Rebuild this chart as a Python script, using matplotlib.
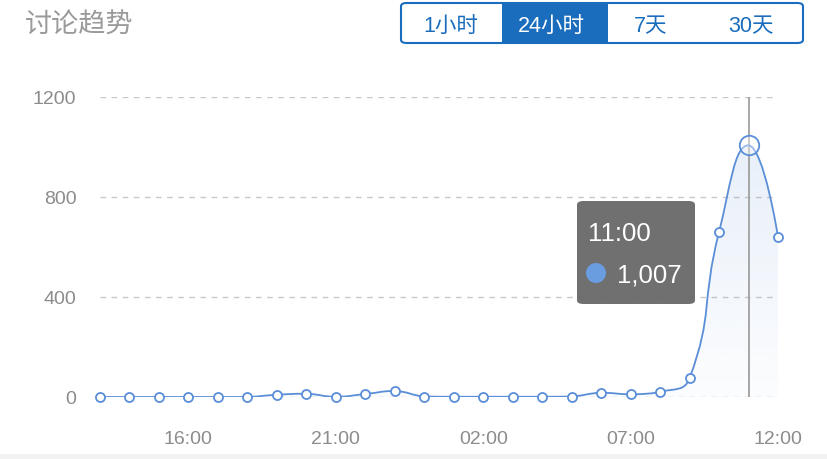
import numpy as np
import matplotlib
matplotlib.use("Agg")
import matplotlib.pyplot as plt
from matplotlib.path import Path
from matplotlib.patches import PathPatch, FancyBboxPatch, Rectangle, Ellipse

plt.rcParams['font.family'] = ['Liberation Sans', 'Noto Sans CJK SC', 'DejaVu Sans']

# data
hours = ['13:00', '14:00', '15:00', '16:00', '17:00', '18:00', '19:00', '20:00',
         '21:00', '22:00', '23:00', '00:00', '01:00', '02:00', '03:00', '04:00',
         '05:00', '06:00', '07:00', '08:00', '09:00', '10:00', '11:00', '12:00']
counts = [0, 0, 0, 0, 0, 0, 9, 13, 1, 12, 24, 2, 1, 1, 1, 1, 2, 17, 11, 20, 75, 660, 1007, 641]
tick_labels = ['16:00', '21:00', '02:00', '07:00', '12:00']
yticks = [0, 400, 800, 1200]
buttons = ['1小时', '24小时', '7天', '30天']
selected = '24小时'
hover_idx = 22

W, H = 828, 460
LINE = '#5b8ed8'
BLUE = '#1a6dbd'
GRAY = '#8c8c8c'


def fx(x):
    return x / W


def fy(y):
    return 1 - y / H


def smooth_path(xs, ys, sx, sy, smooth=0.5):
    # echarts-style bezier smoothing with control points clamped per segment
    px = np.asarray(xs, float) * sx
    py = np.asarray(ys, float) * sy
    n = len(px)
    verts = [(px[0], py[0])]
    codes = [Path.MOVETO]
    cp0 = (px[0], py[0])
    for i in range(1, n):
        x, y = px[i], py[i]
        if i < n - 1:
            prx, pry = px[i - 1], py[i - 1]
            nx, ny = px[i + 1], py[i + 1]
            vx, vy = nx - prx, ny - pry
            lp = np.hypot(x - prx, y - pry)
            ln = np.hypot(nx - x, ny - y)
            r = ln / (lp + ln) if lp + ln > 0 else 0.5
            c1x = x - vx * smooth * (1 - r)
            c1y = y - vy * smooth * (1 - r)
            c1x = min(max(c1x, min(prx, x)), max(prx, x))
            c1y = min(max(c1y, min(pry, y)), max(pry, y))
            n0x = x + vx * smooth * r
            n0y = y + vy * smooth * r
            n0x = min(max(n0x, min(nx, x)), max(nx, x))
            n0y = min(max(n0y, min(ny, y)), max(ny, y))
        else:
            c1x, c1y = x, y
            n0x, n0y = x, y
        verts += [cp0, (c1x, c1y), (x, y)]
        codes += [Path.CURVE4] * 3
        cp0 = (n0x, n0y)
    verts = [(a / sx, b / sy) for a, b in verts]
    return verts, codes


fig = plt.figure(figsize=(W / 100, H / 100), dpi=100)
fig.patch.set_facecolor('white')

x0, x1, ytop, ybot = 100, 778, 98, 398
ax = fig.add_axes([fx(x0), fy(ybot), (x1 - x0) / W, (ybot - ytop) / H])
ax.set_xlim(0, len(hours) - 1)
ax.set_ylim(0, 1200)
for s in ax.spines.values():
    s.set_visible(False)
ax.set_facecolor('none')

xs = np.arange(len(hours))
sx = (x1 - x0) / (len(hours) - 1)
sy = (ybot - ytop) / 1200

for v in yticks:
    ax.axhline(v, color='#c8c8c8', lw=1, ls=(0, (4, 4)), zorder=1)

verts, codes = smooth_path(xs, counts, sx, sy)
curve = Path(verts, codes)

# gradient area under the curve
area_verts = verts + [(xs[-1], 0), (xs[0], 0), verts[0]]
area_codes = codes + [Path.LINETO, Path.LINETO, Path.CLOSEPOLY]
area = PathPatch(Path(area_verts, area_codes), facecolor='none', edgecolor='none')
ax.add_patch(area)
grad = np.linspace(0.02, 0.16, 256).reshape(-1, 1)
rgba = np.zeros((256, 1, 4))
rgba[..., 0] = 0x5b / 255
rgba[..., 1] = 0x8e / 255
rgba[..., 2] = 0xd8 / 255
rgba[..., 3] = grad
im = ax.imshow(rgba, extent=[xs[0], xs[-1], 0, 1200], origin='lower',
               aspect='auto', zorder=2, interpolation='bilinear')
im.set_clip_path(area)

ax.add_patch(PathPatch(curve, facecolor='none', edgecolor=LINE, lw=1.3, zorder=3))

# hover line
ax.plot([xs[hover_idx]] * 2, [0, 1200], color='#a0a0a0', lw=1.3, zorder=2.5)

mask = np.arange(len(hours)) != hover_idx
ax.plot(xs[mask], np.array(counts)[mask], ls='none', marker='o', ms=6.5,
        mfc='white', mec=LINE, mew=1.3, zorder=4, clip_on=False)
ax.plot([xs[hover_idx]], [counts[hover_idx]], ls='none', marker='o', ms=14,
        mfc=(1, 1, 1, 0.4), mec=LINE, mew=1.3, zorder=4, clip_on=False)

ax.set_yticks(yticks)
ax.set_yticklabels([str(v) for v in yticks])
ax.set_xticks([hours.index(t) for t in tick_labels])
ax.set_xticklabels(tick_labels)
ax.tick_params(axis='y', length=0, pad=17, labelsize=14, labelcolor=GRAY)
ax.tick_params(axis='x', length=0, pad=24, labelsize=14, labelcolor=GRAY)

# tooltip
tx0, ty0, tx1, ty1 = 577, 202, 695, 305
fig.patches.append(FancyBboxPatch((fx(tx0), fy(ty1)), (tx1 - tx0) / W, (ty1 - ty0) / H,
                                  boxstyle='round,pad=0,rounding_size=0.008',
                                  transform=fig.transFigure, facecolor='#6b6b6b',
                                  edgecolor='none', alpha=0.97, zorder=10))
fig.text(fx(588), fy(234), hours[hover_idx], color='white', fontsize=18.5,
         va='center', ha='left', zorder=11)
fig.patches.append(Ellipse((fx(596), fy(274)), 20 / W, 20 / H, transform=fig.transFigure,
                           facecolor='#6a9ce0', edgecolor='none', zorder=11))
fig.text(fx(617), fy(275), f'{counts[hover_idx]:,}', color='white', fontsize=18.5,
         va='center', ha='left', zorder=11)

# title
fig.text(fx(25), fy(26), '讨论趋势', color='#9a9a9a', fontsize=19.5, va='center', ha='left')

# range buttons
bx0, bx1, by0, by1 = 401, 803, 4, 44
fig.patches.append(FancyBboxPatch((fx(bx0), fy(by1)), (bx1 - bx0) / W, (by1 - by0) / H,
                                  boxstyle='round,pad=0,rounding_size=0.007',
                                  transform=fig.transFigure, facecolor='white',
                                  edgecolor=BLUE, lw=1.5, zorder=5))
centers = [451, 551, 651, 751]
for label, c in zip(buttons, centers):
    if label == selected:
        fig.patches.append(Rectangle((fx(502), fy(by1)), 106 / W, (by1 - by0) / H,
                                     transform=fig.transFigure, facecolor=BLUE,
                                     edgecolor='none', zorder=6))
        col = 'white'
    else:
        col = BLUE
    fig.text(fx(c), fy(27), label, color=col, fontsize=15.5, ha='center', va='center', zorder=7)

# bottom strip
fig.patches.append(Rectangle((0, 0), 1, 5 / H, transform=fig.transFigure,
                             facecolor='#f2f2f2', edgecolor='none'))

fig.savefig('out.png', dpi=100)
